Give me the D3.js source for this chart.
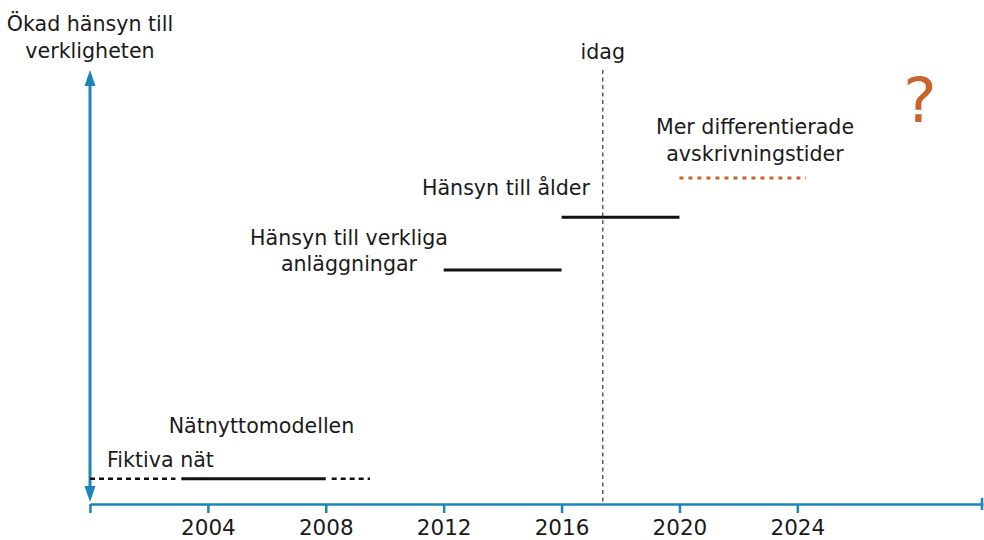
<!DOCTYPE html>
<html><head><meta charset="utf-8">
<script src="https://cdn.jsdelivr.net/npm/d3@7"></script>
<style>
html,body{margin:0;padding:0;background:#fff;}
svg text{font-family:"DejaVu Sans",sans-serif;fill:#1a1a1a;}
</style></head>
<body><svg id="c" width="984" height="540"></svg>
<script>
// ---- data ----
const tickYears = [2004, 2008, 2012, 2016, 2020, 2024];
const segNames  = ["Fiktiva nät", "Nätnyttomodellen", "Nätnyttomodellen (forts.)", "Hänsyn till verkliga anläggningar", "Hänsyn till ålder", "Mer differentierade avskrivningstider"];
const segStart  = [2000, 2003.1, 2008.2, 2012, 2016, 2020];
const segEnd    = [2002.9, 2008, 2009.5, 2016, 2020, 2024.3];
const segLevel  = [5.8, 5.8, 5.8, 53.9, 66.1, 75.1];
const segKind   = ["dotted", "solid", "dotted", "solid", "solid", "future"];
const todayYear = 2017.4;

const blue = "#1a86b7", orange = "#c9622b";
const FS = 20.6;
const svg = d3.select("#c");
const x = d3.scaleLinear().domain([2000, 2030.3]).range([90, 983]);
const y = d3.scaleLinear().domain([0, 100]).range([504, 70]);

// today line
svg.append("line").attr("x1", x(todayYear)).attr("x2", x(todayYear))
  .attr("y1", 70).attr("y2", y(0))
  .attr("stroke", "#333").attr("stroke-width", 1.2).attr("stroke-dasharray", "4,3.5");
svg.append("text").attr("x", x(todayYear)).attr("y", 59).attr("text-anchor", "middle")
  .attr("font-size", FS).text("idag");

// x axis
const ax = svg.append("g").attr("transform", `translate(0,${y(0)})`)
  .call(d3.axisBottom(x).tickValues([2000].concat(tickYears)).tickSize(9).tickSizeOuter(0)
        .tickFormat(d => d === 2000 ? "" : d));
ax.select(".domain").attr("stroke", blue).attr("stroke-width", 2.5);
ax.selectAll(".tick line").attr("stroke", blue).attr("stroke-width", 2.5);
ax.selectAll(".tick text").attr("font-size", 21.5).attr("y", 31).attr("dy", 0)
  .attr("fill", "#1a1a1a").attr("font-family", "DejaVu Sans");
svg.append("line").attr("x1", x(2030.3) - 1).attr("x2", x(2030.3) - 1)
  .attr("y1", y(0) - 6).attr("y2", y(0) + 6).attr("stroke", blue).attr("stroke-width", 2.5);

// y axis double arrow
const ax0 = x(2000);
svg.append("line").attr("x1", ax0).attr("x2", ax0).attr("y1", 84).attr("y2", 488)
  .attr("stroke", blue).attr("stroke-width", 3);
svg.append("path").attr("d", `M${ax0},70 L${ax0-5.5},86 L${ax0+5.5},86 Z`).attr("fill", blue);
svg.append("path").attr("d", `M${ax0},502 L${ax0-5.5},486 L${ax0+5.5},486 Z`).attr("fill", blue);

// y axis title
const yt = svg.append("text").attr("text-anchor", "middle").attr("font-size", FS);
yt.append("tspan").attr("x", 90).attr("y", 31).text("Ökad hänsyn till");
yt.append("tspan").attr("x", 90).attr("y", 58).text("verkligheten");

// segments
segNames.forEach((n, i) => {
  const l = svg.append("line")
    .attr("x1", x(segStart[i])).attr("x2", x(segEnd[i]))
    .attr("y1", y(segLevel[i])).attr("y2", y(segLevel[i]));
  if (segKind[i] === "solid") l.attr("stroke", "#111").attr("stroke-width", 3);
  else if (segKind[i] === "dotted") l.attr("stroke", "#111").attr("stroke-width", 2.5).attr("stroke-dasharray", "5,4");
  else l.attr("stroke", orange).attr("stroke-width", 3).attr("stroke-dasharray", "4,5");
});

// labels
function label(lines, cx, by, anchor) {
  const t = svg.append("text").attr("text-anchor", anchor || "middle").attr("font-size", FS);
  lines.forEach((s, k) => t.append("tspan").attr("x", cx).attr("y", by + k * 27).text(s));
}
label(["Fiktiva nät"], 107, 467, "start");
label(["Nätnyttomodellen"], 261.5, 433);
label(["Hänsyn till verkliga"], 349, 245);
label(["anläggningar"], 349, 271);
label(["Hänsyn till ålder"], 506, 195);
label(["Mer differentierade", "avskrivningstider"], 755, 134);

svg.append("text").attr("x", 920).attr("y", 122).attr("text-anchor", "middle")
  .attr("font-size", 63).style("fill", orange).text("?");
</script></body></html>
